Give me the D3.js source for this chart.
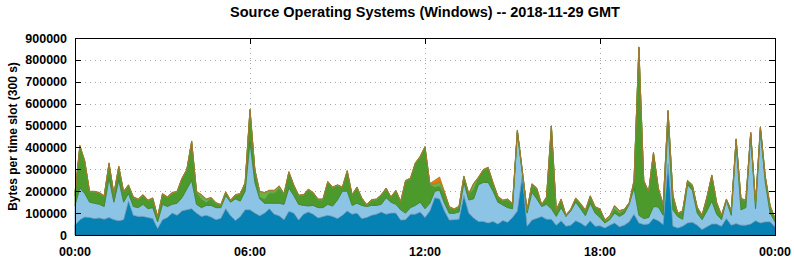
<!DOCTYPE html>
<html>
<head>
<meta charset="utf-8">
<script src="https://cdn.jsdelivr.net/npm/d3@7"></script>
<style>
  body { margin: 0; background: #fff; }
  text { font-family: "Liberation Sans", Arial, sans-serif; font-weight: bold; fill: #000; }
</style>
</head>
<body>
<div id="chart"></div>
<script>
// time slots every 10 minutes, 00:00 .. 24:00 (minutes)
var slotMinutes = 10;
var times = d3.range(0, 24 * 60 + 1, slotMinutes);

// values in thousands of bytes per slot
var darkBlue = [45,70,82,80,75,78,72,80,70,65, 70,155,90,85,85,80,75,30,70,80,
    100,90,110,115,120,100,85,90,82,70, 76,120,88,66,84,115,115,100,88,100,
    120,95,88,70,108,100,68,95,105,95, 78,84,90,85,75,90,110,95,100,75,
    80,90,95,105,95,100,100,68,70,95, 95,105,80,110,170,165,110,68,70,72,
    180,100,78,62,62,55,62,50,66,58, 80,110,270,40,68,76,84,72,72,45,
    65,40,45,65,55,40,65,40,42,32, 45,55,38,45,60,95,55,48,50,75,
    65,48,325,40,32,40,55,58,45,25, 38,50,50,40,75,45,52,45,45,50,
    65,55,60,60,38];
var lightBlue = [90,145,108,70,70,62,58,180,80,185, 80,35,40,40,55,40,50,30,70,50,
    40,55,60,95,130,40,40,45,53,55, 49,60,62,99,71,85,310,140,77,45,
    25,50,57,70,107,80,72,40,28,40, 47,41,50,47,85,110,90,40,45,60,
    50,45,40,35,75,50,40,47,30,30, 40,45,40,35,30,40,35,31,29,33,
    60,60,87,168,178,185,138,100,71,67, 40,360,15,60,127,89,46,68,48,40,
    60,45,65,85,65,48,80,60,38,23, 25,45,47,53,80,120,35,27,30,55,
    63,42,185,74,52,32,175,147,55,45, 72,105,45,30,83,45,368,70,80,410,
    55,425,180,40,22];
var darkGreen = [43,189,144,44,49,49,44,64,34,59, 44,34,39,34,39,34,39,19,44,39,
    49,49,84,84,174,54,38,13,31,17, 9,12,4,14,29,34,144,54,8,18,
    46,46,68,44,69,44,37,44,71,54, 34,34,99,82,64,14,89,44,69,29,
    4,21,24,39,39,19,59,34,144,129, 189,204,279,84,17,18,44,25,15,21,
    24,24,44,29,54,64,34,22,17,34, 19,4,9,9,34,44,4,29,374,24,
    34,1,4,14,19,21,29,24,34,9, 4,18,13,14,2,29,764,169,114,242,
    81,44,54,63,10,34,14,19,22,16, 59,114,49,16,1,18,14,47,29,4,
    24,9,24,29,12];
var lightGreen = [15,4,4,4,4,4,4,4,4,4, 4,4,4,4,4,4,4,4,4,4,
    4,4,4,4,4,4,20,15,4,4, 4,4,4,4,4,4,4,4,25,30,
    12,12,10,4,4,4,4,4,4,4, 4,4,4,4,4,4,4,4,4,4,
    4,4,4,4,4,4,4,4,4,4, 4,4,4,4,15,20,5,4,4,4,
    4,4,25,4,4,4,4,4,4,4, 4,4,4,4,4,4,4,4,4,4,
    4,4,4,4,4,4,4,4,4,4, 12,15,12,4,4,4,4,4,4,4,
    4,4,4,4,4,4,4,4,4,4, 4,4,4,4,4,4,4,4,4,4,
    4,4,4,4,4];
var orange = [2,2,2,2,2,2,2,2,2,2, 2,2,2,2,2,2,2,2,2,2,
    2,2,2,2,2,2,2,2,2,2, 2,2,2,2,2,2,2,2,2,2,
    2,2,2,2,2,2,2,2,2,2, 2,2,2,2,2,2,2,2,2,2,
    2,2,2,2,2,2,2,2,2,2, 2,2,2,2,18,22,6,2,2,2,
    2,2,2,2,2,2,2,2,2,2, 2,2,2,2,2,2,2,2,2,2,
    2,2,2,2,2,2,2,2,2,2, 2,2,2,2,2,2,2,2,2,2,
    2,2,2,2,2,2,2,2,2,2, 2,2,2,2,2,2,2,2,2,2,
    2,2,2,2,2];

var xTickMinutes = [0, 360, 720, 1080, 1440];
var xTickLabels = ["00:00", "06:00", "12:00", "18:00", "00:00"];
var yTicks = [0, 100000, 200000, 300000, 400000, 500000, 600000, 700000, 800000, 900000];

var keys = ["darkBlue", "lightBlue", "darkGreen", "lightGreen", "orange"];
var fills = { darkBlue: "#0581b4", lightBlue: "#8bc4e4", darkGreen: "#4c9a2b", lightGreen: "#66b548", orange: "#f07800" };
var strokes = { darkBlue: "#1b6a93", lightBlue: "#6f9fba", darkGreen: "#3f8126", lightGreen: "#579a3c", orange: "#a07a30" };

var w = 794, h = 260;
var plotLeft = 75, plotRight = 775, plotTop = 38, plotBottom = 235;

var rows = times.map(function(t, i) {
    return {
        t: t,
        darkBlue: darkBlue[i] * 1000,
        lightBlue: lightBlue[i] * 1000,
        darkGreen: darkGreen[i] * 1000,
        lightGreen: lightGreen[i] * 1000,
        orange: orange[i] * 1000
    };
});

var xScale = d3.scaleLinear().domain([0, 1440]).range([plotLeft, plotRight]);
var yScale = d3.scaleLinear().domain([0, 900000]).range([plotBottom, plotTop]);

var svg = d3.select("#chart").append("svg")
    .attr("width", w)
    .attr("height", h)
    .style("display", "block");

svg.append("rect").attr("width", w).attr("height", h).attr("fill", "#fff");

// dotted grid
var grid = svg.append("g").attr("stroke", "#a8a8a8").attr("stroke-width", 1)
    .attr("stroke-dasharray", "1,4");
grid.selectAll("line.gy")
    .data(yTicks.slice(1, -1))
    .enter().append("line")
    .attr("x1", plotLeft).attr("x2", plotRight)
    .attr("y1", function(d) { return Math.round(yScale(d)) + 0.5; })
    .attr("y2", function(d) { return Math.round(yScale(d)) + 0.5; });
grid.selectAll("line.gx")
    .data(xTickMinutes.slice(1, -1))
    .enter().append("line")
    .attr("y1", plotTop).attr("y2", plotBottom)
    .attr("x1", function(d) { return Math.round(xScale(d)) + 0.5; })
    .attr("x2", function(d) { return Math.round(xScale(d)) + 0.5; });

// stacked areas
var stack = d3.stack().keys(keys);
var series = stack(rows);

var area = d3.area()
    .x(function(d) { return xScale(d.data.t); })
    .y0(function(d) { return yScale(d[0]); })
    .y1(function(d) { return yScale(d[1]); });

svg.append("g").selectAll("path")
    .data(series)
    .enter().append("path")
    .attr("d", area)
    .attr("fill", function(d) { return fills[d.key]; })
    .attr("stroke", function(d) { return strokes[d.key]; })
    .attr("stroke-width", 0.8)
    .attr("stroke-linejoin", "round");

// ticks (inside, both sides) and frame
var ticks = svg.append("g").attr("stroke", "#000").attr("stroke-width", 1);
ticks.selectAll("line.ly")
    .data(yTicks.slice(1, -1))
    .enter().append("line")
    .attr("x1", plotLeft).attr("x2", plotLeft + 6)
    .attr("y1", function(d) { return Math.round(yScale(d)) + 0.5; })
    .attr("y2", function(d) { return Math.round(yScale(d)) + 0.5; });
ticks.selectAll("line.ry")
    .data(yTicks.slice(1, -1))
    .enter().append("line")
    .attr("x1", plotRight - 6).attr("x2", plotRight)
    .attr("y1", function(d) { return Math.round(yScale(d)) + 0.5; })
    .attr("y2", function(d) { return Math.round(yScale(d)) + 0.5; });
ticks.selectAll("line.tx")
    .data(xTickMinutes.slice(1, -1))
    .enter().append("line")
    .attr("y1", plotTop).attr("y2", plotTop + 6)
    .attr("x1", function(d) { return Math.round(xScale(d)) + 0.5; })
    .attr("x2", function(d) { return Math.round(xScale(d)) + 0.5; });

svg.append("rect")
    .attr("x", plotLeft + 0.5).attr("y", plotTop + 0.5)
    .attr("width", plotRight - plotLeft).attr("height", plotBottom - plotTop)
    .attr("fill", "none").attr("stroke", "#000").attr("stroke-width", 1);

// y tick labels
svg.append("g").selectAll("text")
    .data(yTicks)
    .enter().append("text")
    .attr("x", plotLeft - 8)
    .attr("y", function(d) { return yScale(d) + 4.5; })
    .attr("text-anchor", "end")
    .style("font-size", "12.5px")
    .text(function(d) { return d; });

// x tick labels
svg.append("g").selectAll("text")
    .data(xTickMinutes)
    .enter().append("text")
    .attr("x", function(d) { return xScale(d); })
    .attr("y", 256)
    .attr("text-anchor", "middle")
    .style("font-size", "12.5px")
    .text(function(d, i) { return xTickLabels[i]; });

// title and axis label
svg.append("text")
    .attr("x", (plotLeft + plotRight) / 2)
    .attr("y", 17)
    .attr("text-anchor", "middle")
    .style("font-size", "14.5px")
    .text("Source Operating Systems (Windows) -- 2018-11-29 GMT");

svg.append("text")
    .attr("transform", "translate(17," + ((plotTop + plotBottom) / 2) + ") rotate(-90)")
    .attr("text-anchor", "middle")
    .style("font-size", "12px")
    .text("Bytes per time slot (300 s)");
</script>
</body>
</html>
